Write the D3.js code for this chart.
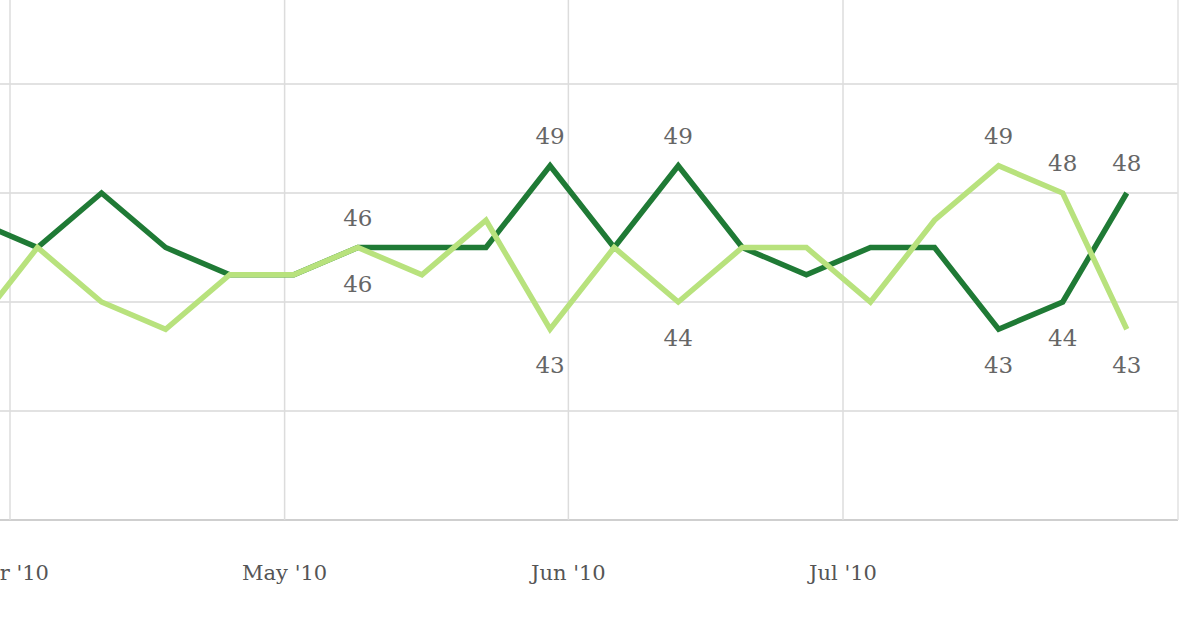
<!DOCTYPE html>
<html>
<head>
<meta charset="utf-8">
<script src="https://cdn.jsdelivr.net/npm/d3@7"></script>
<style>
body{margin:0;background:#fff;}
</style>
</head>
<body>
<div id="chart"></div>
<script>
// weekly poll dates and the two series
const weeks = ["2010-03-28","2010-04-04","2010-04-11","2010-04-18","2010-04-25","2010-05-02","2010-05-09",
  "2010-05-16","2010-05-23","2010-05-30","2010-06-06","2010-06-13","2010-06-20","2010-06-27",
  "2010-07-04","2010-07-11","2010-07-18","2010-07-25","2010-08-01"];
const darkVals  = [47,46,48,46,45,45,46,46,46,49,46,49,46,45,46,46,43,44,48];
const lightVals = [43,46,44,43,45,45,46,45,47,43,46,44,46,46,44,47,49,48,43];
const yTicks = [36,40,44,48,52];
const monthTicks = ["2010-04-01","2010-05-01","2010-06-01","2010-07-01"];
// which points get a value label: [index, series, above?]
const labels = [[6,"dark",true],[6,"light",false],[9,"dark",true],[9,"light",false],
  [11,"dark",true],[11,"light",false],[16,"light",true],[16,"dark",false],
  [17,"light",true],[17,"dark",false],[18,"dark",true],[18,"light",false]];

const width = 1200, height = 630;
const parse = d3.timeParse("%Y-%m-%d");
const fmt = d3.timeFormat("%b '%y");

let svg = d3.select("#chart").append("svg").attr("width",width).attr("height",height);

let x = d3.scaleTime()
    .domain([parse("2010-04-01"), parse("2010-07-01")])
    .range([10,843]);
let y = d3.scaleLinear().domain([36,52]).range([520,84]);

//grid
svg.selectAll("line.h").data(yTicks).join("line").attr("class","h")
    .attr("x1",0).attr("x2",1178)
    .attr("y1",d=>y(d)).attr("y2",d=>y(d))
    .attr("stroke",d=>d==36?"#cfcfcf":"#e2e2e2").attr("stroke-width",2);
svg.selectAll("line.v").data(monthTicks).join("line").attr("class","v")
    .attr("x1",d=>x(parse(d))).attr("x2",d=>x(parse(d)))
    .attr("y1",0).attr("y2",520)
    .attr("stroke","#dcdcdc").attr("stroke-width",1.5);
svg.append("line").attr("x1",1178).attr("x2",1178).attr("y1",0).attr("y2",520)
    .attr("stroke","#e2e2e2").attr("stroke-width",1.5);

svg.selectAll("text.month").data(monthTicks).join("text").attr("class","month")
    .attr("x",d=>x(parse(d))).attr("y",580)
    .attr("text-anchor","middle")
    .attr("font-family","'DejaVu Serif', serif").attr("font-size",21).attr("fill","#555")
    .text(d=>fmt(parse(d)));

const series = {dark:{vals:darkVals,color:"#1f7a35"}, light:{vals:lightVals,color:"#b8e27d"}};
let line = d3.line().x((d,i)=>x(parse(weeks[i]))).y(d=>y(d));

["dark","light"].forEach(k=>{
    svg.append("path").datum(series[k].vals)
        .attr("d",line).attr("fill","none")
        .attr("stroke",series[k].color).attr("stroke-width",5.5)
        .attr("stroke-linejoin","miter");
});

svg.selectAll("text.val").data(labels).join("text").attr("class","val")
    .attr("x",d=>x(parse(weeks[d[0]])))
    .attr("y",d=>y(series[d[1]].vals[d[0]]) + (d[2] ? -22 : 44))
    .attr("text-anchor","middle")
    .attr("font-family","'DejaVu Serif', serif").attr("font-size",23).attr("fill","#666")
    .text(d=>series[d[1]].vals[d[0]]);
</script>
</body>
</html>
